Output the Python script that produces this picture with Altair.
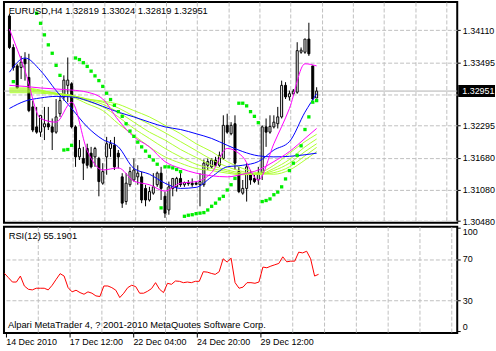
import altair as alt
import pandas as pd

symbol = "EURUSD,H4"
rsi_title = "RSI(12) 55.1901"
copyright_text = "Alpari MetaTrader 4, ? 2001-2010 MetaQuotes Software Corp."

opens = [1.3438, 1.3378, 1.3343, 1.3340, 1.3356, 1.3321, 1.3265, 1.3227, 1.3217, 1.3227,
         1.3233, 1.3227, 1.3217, 1.3252, 1.3284, 1.3306, 1.3309, 1.3227, 1.3170, 1.3167,
         1.3186, 1.3177, 1.3170, 1.3167, 1.3120, 1.3170, 1.3186, 1.3192, 1.3177, 1.3132,
         1.3085, 1.3117, 1.3126, 1.3132, 1.3132, 1.3110, 1.3088, 1.3101, 1.3117, 1.3139,
         1.3095, 1.3069, 1.3110, 1.3113, 1.3129, 1.3117, 1.3121, 1.3120, 1.3120, 1.3117,
         1.3117, 1.3154, 1.3151, 1.3164, 1.3154, 1.3167, 1.3230, 1.3214, 1.3233, 1.3142,
         1.3101, 1.3110, 1.3139, 1.3129, 1.3126, 1.3139, 1.3227, 1.3217, 1.3227, 1.3233,
         1.3246, 1.3306, 1.3284, 1.3290, 1.3293, 1.3369, 1.3369, 1.3394, 1.3343, 1.32819]
highs = [1.3442, 1.3384, 1.3347, 1.3362, 1.3369, 1.3366, 1.3277, 1.3265, 1.3249, 1.3265,
         1.3265, 1.3243, 1.3280, 1.3284, 1.3325, 1.3359, 1.3312, 1.3230, 1.3202, 1.3189,
         1.3195, 1.3189, 1.3189, 1.3170, 1.3158, 1.3208, 1.3202, 1.3208, 1.3183, 1.3139,
         1.3139, 1.3151, 1.3167, 1.3154, 1.3142, 1.3117, 1.3113, 1.3139, 1.3142, 1.3151,
         1.3104, 1.3123, 1.3129, 1.3132, 1.3139, 1.3123, 1.3126, 1.3129, 1.3123, 1.3139,
         1.3165, 1.3167, 1.3167, 1.3170, 1.3180, 1.3249, 1.3252, 1.3236, 1.3249, 1.3151,
         1.3126, 1.3158, 1.3145, 1.3136, 1.3151, 1.3230, 1.3243, 1.3249, 1.3249, 1.3265,
         1.3315, 1.3312, 1.3296, 1.3299, 1.3388, 1.3378, 1.3394, 1.3425, 1.3343, 1.33024]
lows = [1.3375, 1.3334, 1.3299, 1.3318, 1.3315, 1.3255, 1.3217, 1.3214, 1.3208, 1.3202,
        1.3221, 1.3183, 1.3214, 1.3246, 1.3277, 1.3274, 1.3224, 1.3151, 1.3164, 1.3126,
        1.3148, 1.3148, 1.3151, 1.3095, 1.3117, 1.3136, 1.3170, 1.3145, 1.3148, 1.3073,
        1.3079, 1.3113, 1.3123, 1.3117, 1.3082, 1.3076, 1.3085, 1.3098, 1.3113, 1.3088,
        1.3054, 1.3060, 1.3095, 1.3104, 1.3113, 1.3113, 1.3115, 1.3113, 1.3116, 1.3076,
        1.3113, 1.3145, 1.3148, 1.3151, 1.3151, 1.3164, 1.3214, 1.3211, 1.3145, 1.3101,
        1.3098, 1.3085, 1.3117, 1.3120, 1.3117, 1.3126, 1.3189, 1.3214, 1.3224, 1.3224,
        1.3243, 1.3280, 1.3277, 1.3287, 1.3290, 1.3366, 1.3366, 1.3362, 1.3277, 1.32819]
closes = [1.3378, 1.3340, 1.3301, 1.3350, 1.3347, 1.3258, 1.3221, 1.3217, 1.3249, 1.3233,
          1.3227, 1.3217, 1.3246, 1.3277, 1.3316, 1.3316, 1.3227, 1.3170, 1.3186, 1.3158,
          1.3154, 1.3151, 1.3186, 1.3123, 1.3142, 1.3195, 1.3195, 1.3151, 1.3170, 1.3082,
          1.3120, 1.3142, 1.3145, 1.3139, 1.3088, 1.3088, 1.3104, 1.3113, 1.3139, 1.3110,
          1.3063, 1.3113, 1.3129, 1.3129, 1.3117, 1.3121, 1.3119, 1.3117, 1.3118, 1.3123,
          1.3158, 1.3161, 1.3164, 1.3154, 1.3173, 1.3230, 1.3217, 1.3230, 1.3158, 1.3104,
          1.3110, 1.3151, 1.3126, 1.3123, 1.3139, 1.3227, 1.3217, 1.3228, 1.3236, 1.3246,
          1.3306, 1.3284, 1.3290, 1.3295, 1.3372, 1.3373, 1.3394, 1.3366, 1.3280, 1.32951]

sar = [None, 1.3313, None, None, None, None, None, 1.3443, 1.3424, 1.3402,
       1.3383, 1.3367, 1.3344, 1.3325, 1.3183, 1.3184, 1.3192, 1.3358, 1.3355, 1.3349,
       1.3342, 1.3333, 1.3324, 1.3315, 1.3304, 1.3291, 1.3279, 1.3268, 1.3256, 1.3247,
       1.3233, 1.3219, 1.3209, 1.3198, 1.3189, 1.3181, 1.3171, 1.3164, 1.3156, 1.3073,
       1.3151, 1.3151, 1.3149, 1.3146, 1.3142, 1.3057, 1.3059, 1.3060, 1.3062, 1.3063,
       1.3064, 1.3069, 1.3076, 1.3082, 1.3090, 1.3095, 1.3107, 1.3117, 1.3129, 1.3272,
       1.3272, 1.3267, 1.3256, 1.3247, 1.3235, 1.3085, 1.3087, 1.3090, 1.3098, 1.3103,
       1.3113, 1.3128, 1.3144, 1.3158, 1.3173, 1.3191, 1.3222, 1.3246, 1.3274, 1.3277]

rsi = [56.1, 51.9, 47.7, 47.7, 53.5, 43.9, 40.7, 40.1, 41.7, 41.7,
       41.7, 40.1, 44.6, 50.3, 55.8, 53.5, 42.3, 38.2, 39.8, 37.5,
       35.9, 38.2, 36.9, 34.3, 33.7, 43.9, 43.9, 42.3, 39.8, 32.7,
       36.9, 42.3, 44.6, 43.3, 36.9, 36.9, 38.8, 41.4, 47.1, 40.7,
       37.5, 46.5, 45.5, 48.7, 48.4, 47.1, 47.7, 47.1, 48.4, 48.4,
       57.7, 57.3, 56.1, 55.1, 57.7, 70.2, 67.0, 70.8, 47.1, 41.7,
       42.8, 47.1, 47.1, 46.5, 47.7, 62.2, 61.5, 63.1, 64.4, 65.7,
       72.1, 67.3, 67.9, 67.9, 76.6, 75.9, 77.5, 70.2, 53.5, 55.19]

# moving averages read at every 4th bar
ma_bars = [0, 4, 8, 12, 16, 20, 24, 28, 32, 36, 40, 44, 48, 52, 56, 60, 64, 68, 72, 76, 79]
magenta_fast = [1.3413, 1.3334, 1.3243, 1.3236, 1.3274, 1.3182, 1.3145, 1.3149, 1.3124, 1.3117, 1.3105,
                1.3120, 1.3123, 1.3140, 1.3186, 1.3170, 1.3126, 1.3195, 1.3262, 1.3347, 1.3343]
magenta_slow = [1.3306, 1.3304, 1.3301, 1.3299, 1.3297, 1.3293, 1.3280, 1.3240, 1.3208, 1.3189, 1.3161,
                1.3148, 1.3139, 1.3134, 1.3132, 1.3137, 1.3145, 1.3161, 1.3180, 1.3205, 1.3224]
blue_mid = [1.3331, 1.3358, 1.3334, 1.3296, 1.3262, 1.3227, 1.3203, 1.3189, 1.3148, 1.3137, 1.3120,
            1.3110, 1.3112, 1.3132, 1.3151, 1.3154, 1.3161, 1.3183, 1.3199, 1.3255, 1.3290]
blue_slow = [1.3262, 1.3276, 1.3282, 1.3285, 1.3284, 1.3277, 1.3266, 1.3255, 1.3246, 1.3236, 1.3227,
             1.3222, 1.3214, 1.3205, 1.3192, 1.3180, 1.3172, 1.3170, 1.3171, 1.3174, 1.3177]
green_1 = [1.3301, 1.3301, 1.3297, 1.3290, 1.3284, 1.3271, 1.3258, 1.3233, 1.3211, 1.3189, 1.3170,
           1.3158, 1.3148, 1.3144, 1.3139, 1.3136, 1.3139, 1.3154, 1.3177, 1.3199, 1.3213]
green_2 = [1.3299, 1.3299, 1.3296, 1.3291, 1.3286, 1.3276, 1.3265, 1.3246, 1.3224, 1.3205, 1.3186,
           1.3170, 1.3156, 1.3148, 1.3142, 1.3137, 1.3137, 1.3148, 1.3165, 1.3189, 1.3204]
green_3 = [1.3297, 1.3297, 1.3295, 1.3291, 1.3287, 1.3279, 1.3270, 1.3255, 1.3236, 1.3217, 1.3202,
           1.3184, 1.3169, 1.3154, 1.3145, 1.3139, 1.3137, 1.3144, 1.3158, 1.3180, 1.3195]
green_4 = [1.3295, 1.3295, 1.3293, 1.3290, 1.3287, 1.3280, 1.3274, 1.3263, 1.3247, 1.3232, 1.3216,
           1.3199, 1.3182, 1.3165, 1.3151, 1.3142, 1.3137, 1.3140, 1.3151, 1.3172, 1.3188]
green_5 = [1.3292, 1.3292, 1.3291, 1.3289, 1.3286, 1.3280, 1.3276, 1.3270, 1.3258, 1.3246, 1.3230,
           1.3214, 1.3195, 1.3180, 1.3161, 1.3148, 1.3139, 1.3137, 1.3145, 1.3164, 1.3180]

date_label_bars = [0, 16, 32, 48, 64]
date_labels = ["14 Dec 2010", "17 Dec 12:00", "22 Dec 04:00", "24 Dec 20:00", "29 Dec 12:00"]
price_ticks = [1.3048, 1.3108, 1.3168, 1.32295, 1.3289, 1.33495, 1.3411]
rsi_ticks = [0, 30, 70, 100]

FONT = "Liberation Sans"
GRID = "#c0c0c0"
DASH = [4, 2]

bars = list(range(len(closes)))
candles = pd.DataFrame({"bar": bars, "open": opens, "high": highs, "low": lows, "close": closes})
candles["bull"] = candles["close"] >= candles["open"]
sar_df = pd.DataFrame({"bar": bars, "sar": sar}).dropna()
rsi_df = pd.DataFrame({"bar": bars, "rsi": rsi})


def ma_frame(series):
    rows = []
    for name, vals in series.items():
        for b, v in zip(ma_bars, vals):
            rows.append({"bar": b, "value": v, "line": name})
    return pd.DataFrame(rows)


greens = ma_frame({"g1": green_1, "g2": green_2, "g3": green_3, "g4": green_4, "g5": green_5})
blues = ma_frame({"bm": blue_mid, "bs": blue_slow})
magentas = ma_frame({"mf": magenta_fast, "ms": magenta_slow})

x_scale = alt.Scale(domain=[-0.125, 113.875], nice=False, zero=False)
price_scale = alt.Scale(domain=[1.30448, 1.34644], nice=False, zero=False)
rsi_scale = alt.Scale(domain=[-1.63, 101.25], nice=False, zero=False)

grid_vals = [0.3 + 8 * k for k in range(15)]
label_pos = [b + 0.3 for b in date_label_bars]
label_expr = "".join(
    f"abs(datum.value - {p}) < 0.01 ? '{t}' : " for p, t in zip(label_pos, date_labels)
) + "''"

x_main_axis = alt.Axis(values=grid_vals[1:], labels=False, ticks=False, domain=False,
                       grid=True, gridColor=GRID, gridDash=DASH, title=None)
y_main_axis = alt.Axis(orient="right", values=price_ticks, grid=True, gridColor=GRID, gridDash=DASH,
                       domain=False, tickSize=3, tickColor="black", labelPadding=2,
                       labelExpr="abs(datum.value - 1.3289) < 0.00001 ? '' : format(datum.value, '.5f')",
                       title=None)


def X():
    return alt.X("bar:Q", scale=x_scale, axis=x_main_axis)


def Y(field):
    return alt.Y(f"{field}:Q", scale=price_scale, axis=y_main_axis)


last = pd.DataFrame({"p": [closes[-1]], "label": [f"{closes[-1]:.5f}"]})
title_df = pd.DataFrame({"t": [f"{symbol} {opens[-1]:.5f} {highs[-1]:.5f} {lows[-1]:.5f} {closes[-1]:.5f}"]})

price_line = alt.Chart(last).mark_rule(color="#b0b0b0", strokeWidth=1).encode(y=Y("p"))
wicks = alt.Chart(candles).mark_rule(color="black", strokeWidth=1).encode(
    x=X(), y=Y("low"), y2="high")
bodies = alt.Chart(candles).mark_bar(size=2, stroke="black", strokeWidth=1).encode(
    x=X(), y=Y("open"), y2="close",
    fill=alt.condition("datum.bull", alt.value("white"), alt.value("black")))
green_lines = alt.Chart(greens).mark_line(color="#adff2f", strokeWidth=1, interpolate="monotone").encode(
    x=X(), y=Y("value"), detail="line:N")
blue_lines = alt.Chart(blues).mark_line(color="#0000ff", strokeWidth=1, interpolate="monotone").encode(
    x=X(), y=Y("value"), detail="line:N")
magenta_lines = alt.Chart(magentas).mark_line(color="#ff00ff", strokeWidth=1, interpolate="monotone").encode(
    x=X(), y=Y("value"), detail="line:N")
sar_dots = alt.Chart(sar_df).mark_square(size=11, color="#00ee00", opacity=1).encode(x=X(), y=Y("sar"))
title_txt = alt.Chart(title_df).mark_text(align="left", baseline="middle", font=FONT, fontSize=9.4,
                                          color="black").encode(
    x=alt.value(4.7), y=alt.value(9), text="t:N")
price_box = alt.Chart(last).mark_rect(color="black", yOffset=-6, y2Offset=6).encode(
    x=alt.value(457), x2=alt.value(494), y=Y("p"), y2="p")
price_txt = alt.Chart(last).mark_text(align="left", baseline="middle", font=FONT, fontSize=9,
                                      color="white").encode(
    x=alt.value(461), y=Y("p"), text="label:N")

main = alt.layer(price_line, wicks, bodies, green_lines, blue_lines, magenta_lines, sar_dots,
                 title_txt, price_box, price_txt).properties(width=456, height=222)

x_rsi_axis = alt.Axis(values=grid_vals, labelExpr=label_expr, labelAlign="left", labelBaseline="top",
                      labelPadding=1, tickSize=4, tickColor="black", domain=False, grid=True,
                      gridColor=GRID, gridDash=DASH, title=None, labelFlush=False, labelOverlap=False,
                      tickOpacity={"condition": {"test": "datum.value < 70 && round(datum.value - 0.3) % 16 == 0",
                                                 "value": 1}, "value": 0},
                      gridOpacity={"condition": {"test": "datum.value > 1", "value": 1}, "value": 0})
y_rsi_axis = alt.Axis(orient="right", values=rsi_ticks, grid=True, gridColor=GRID, gridDash=DASH,
                      domain=False, tickSize=3, tickColor="black", labelPadding=2, title=None,
                      gridOpacity={"condition": {"test": "datum.value == 30 || datum.value == 70",
                                                 "value": 1}, "value": 0},
                      labelBaseline={"condition": [{"test": "datum.value == 100", "value": "top"},
                                                   {"test": "datum.value == 0", "value": "bottom"}],
                                     "value": "middle"})

rsi_line = alt.Chart(rsi_df).mark_line(color="#ff0000", strokeWidth=1).encode(
    x=alt.X("bar:Q", scale=x_scale, axis=x_rsi_axis),
    y=alt.Y("rsi:Q", scale=rsi_scale, axis=y_rsi_axis))
rsi_txt = alt.Chart(pd.DataFrame({"t": [rsi_title]})).mark_text(
    align="left", baseline="middle", font=FONT, fontSize=9.4, color="black").encode(
    x=alt.value(4.7), y=alt.value(9), text="t:N")
copy_txt = alt.Chart(pd.DataFrame({"t": [copyright_text]})).mark_text(
    align="left", baseline="middle", font=FONT, fontSize=9.4, color="black").encode(
    x=alt.value(4), y=alt.value(99), text="t:N")

rsi_panel = alt.layer(rsi_line, rsi_txt, copy_txt).properties(width=456, height=107)

chart = alt.vconcat(main, rsi_panel, spacing=4, bounds="flush").properties(
    padding={"left": 1, "top": 0, "right": 0, "bottom": 0},
    background="white",
).configure_view(stroke="black", strokeWidth=2).configure_axis(
    labelFont=FONT, labelFontSize=9, labelColor="black")

chart.save("out.html", embed_options={"renderer": "svg", "actions": False})
